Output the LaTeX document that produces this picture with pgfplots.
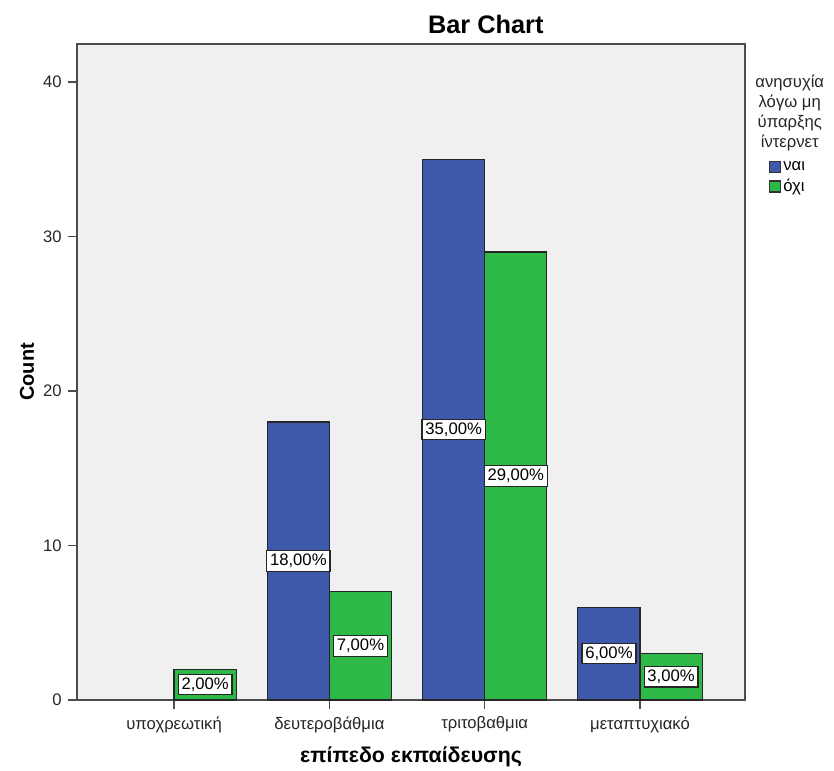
\documentclass[border=0pt]{standalone}
\usepackage{fontspec}
\setmainfont{Liberation Sans}
\usepackage{pgfplots}
\pgfplotsset{compat=1.18}
\definecolor{spssblue}{RGB}{62,88,172}
\definecolor{spssgreen}{RGB}{46,184,72}
\definecolor{spssbg}{RGB}{240,240,240}
\begin{document}
\begin{tikzpicture}
\begin{axis}[
  name=main,
  scale only axis, width=501pt, height=492pt,
  xmin=-0.625, xmax=3.676, ymin=0, ymax=42.46,
  axis background/.style={fill=spssbg},
  axis line style={draw=black!70, line width=1.3pt},
  xtick={0,1,2,3},
  xticklabels={υποχρεωτική, δευτεροβάθμια, τριτοβαθμια, μεταπτυχιακό},
  ytick={0,10,20,30,40},
  tick align=outside, tick pos=left,
  major tick length=7pt,
  tick style={draw=black!70, line width=0.9pt},
  /pgf/number format/assume math mode=true,
  tick label style={font=\fontsize{12.5}{14}\selectfont, text=black!85},
  yticklabel style={xshift=-1pt},
  xticklabel style={yshift=-2pt},
  ylabel={\textbf{Count}},
  ylabel style={at={(axis description cs:-0.075,0.5)}, anchor=center, font=\fontsize{15}{17}\selectfont},
  xlabel={\textbf{επίπεδο εκπαίδευσης}},
  xlabel style={at={(axis description cs:0.5,-0.086)}, anchor=center, font=\fontsize{16}{18}\selectfont},
  clip=false,
  legend style={at={(rel axis cs:1.035,0.825)}, anchor=north west, draw=none, fill=none,
    font=\fontsize{12.5}{14}\selectfont, row sep=1pt, inner sep=0pt},
  legend cell align=left,
  legend image code/.code={\draw[#1, draw=black!80, line width=0.8pt] (0pt,-4pt) rectangle (8.25pt,4.25pt);},
]
\addplot[ybar, bar width=0.4, bar shift=-0.2, fill=spssblue, draw=black!85, line width=0.9pt]
  table[x=x, y=y] {
x y
1 18
2 35
3 6
};
\addlegendentry{ναι}
\addplot[ybar, bar width=0.4, bar shift=0.2, fill=spssgreen, draw=black!85, line width=0.9pt]
  table[x=x, y=y] {
x y
0 2
1 7
2 29
3 3
};
\addlegendentry{όχι}
% percentage labels, centred in each bar
\addplot[draw=none, forget plot, nodes near coords={\pgfplotspointmeta\%},
  point meta=explicit symbolic,
  every node near coord/.style={anchor=center, fill=white, draw=black!85, line width=0.9pt,
    inner sep=2.5pt, font=\fontsize{12.5}{14}\selectfont}]
  table[x=x, y=y, meta=lab] {
x y lab
0.8 9 18,00
1.8 17.5 35,00
2.8 3 6,00
};
\addplot[draw=none, forget plot, nodes near coords={\pgfplotspointmeta\%},
  point meta=explicit symbolic,
  every node near coord/.style={anchor=center, fill=white, draw=black!85, line width=0.9pt,
    inner sep=2.5pt, font=\fontsize{12.5}{14}\selectfont}]
  table[x=x, y=y, meta=lab] {
x y lab
0.2 1 2,00
1.2 3.5 7,00
2.2 14.5 29,00
3.2 1.5 3,00
};
\node[anchor=base, font=\fontsize{19}{21}\selectfont\bfseries] at (rel axis cs:0.612,1) [yshift=7.5pt] {Bar Chart};
\node[anchor=north, align=center, font=\fontsize{12.5}{15}\selectfont, text=black!85]
  at (rel axis cs:1.067,0.96) {ανησυχία\\λόγω μη\\ύπαρξης\\ίντερνετ};
\end{axis}
\path (main.south west) ++(-57.75pt,-51.75pt) coordinate (bl);
\path (main.north east) ++(66.75pt,33pt) coordinate (tr);
\path[use as bounding box] (bl) rectangle (tr);
\end{tikzpicture}
\end{document}
